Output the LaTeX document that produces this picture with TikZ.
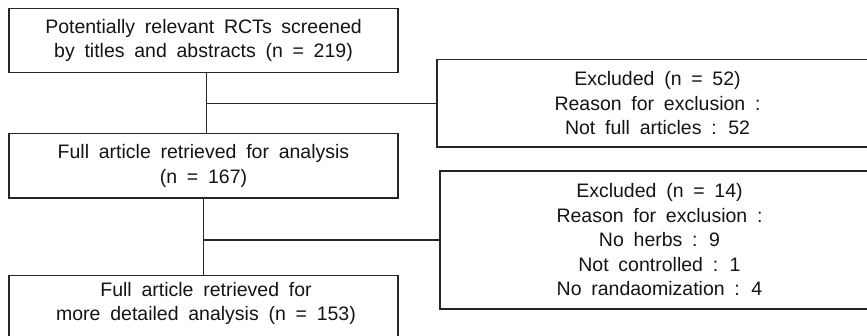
\documentclass[tikz,border=0pt]{standalone}
\usepackage{fontspec}
\setmainfont{Liberation Sans}[WordSpace={1.8}]
\begin{document}
\begin{tikzpicture}[x=1pt,y=-1pt,
  box/.style={draw=black!85, line width=1.2pt, inner sep=0pt, align=center,
    font=\fontsize{19.5}{24.5}\selectfont, text=black!92},
  txt/.style={inner sep=0pt, align=center, font=\fontsize{19.5}{24.5}\selectfont, text=black!92},
  link/.style={draw=black!85, line width=1.2pt}]
\useasboundingbox (0,0) rectangle (867,336);
\clip (0,0) rectangle (867,336);
\node[box, minimum width=389pt, minimum height=64pt] (b1) at (203.5,40.5)
  {Potentially relevant RCTs screened\\by titles and abstracts (n = 219)};
\node[box, minimum width=441pt, minimum height=87.5pt] (b2) at (657.5,103.3)
  {Excluded (n = 52)\\Reason for exclusion :\\Not full articles : 52};
\node[box, minimum width=389pt, minimum height=64.5pt] (b3) at (203.5,165.8)
  {Full article retrieved for analysis\\(n = 167)};
\node[box, minimum width=439pt, minimum height=138pt] (b4) at (659.5,240)
  {Excluded (n = 14)\\Reason for exclusion :\\No herbs : 9\\Not controlled : 1\\No randaomization : 4};
\node[box, minimum width=389pt, minimum height=64pt] (b5) at (203.5,307.5) {};
\node[txt] (t5) at (206,303.5) {Full article retrieved for\\more detailed analysis (n = 153)};
\coordinate (j1) at (206.5,104);
\coordinate (j2) at (203.3,240);
\draw[link] (b1.south -| j1) -- (b3.north -| j1);
\draw[link] (b2.west -| j1) -- (b2.west);
\draw[link] (b3.south -| j2) -- (b5.north -| j2);
\draw[link] (b4.west -| j2) -- (b4.west);
\end{tikzpicture}
\end{document}
